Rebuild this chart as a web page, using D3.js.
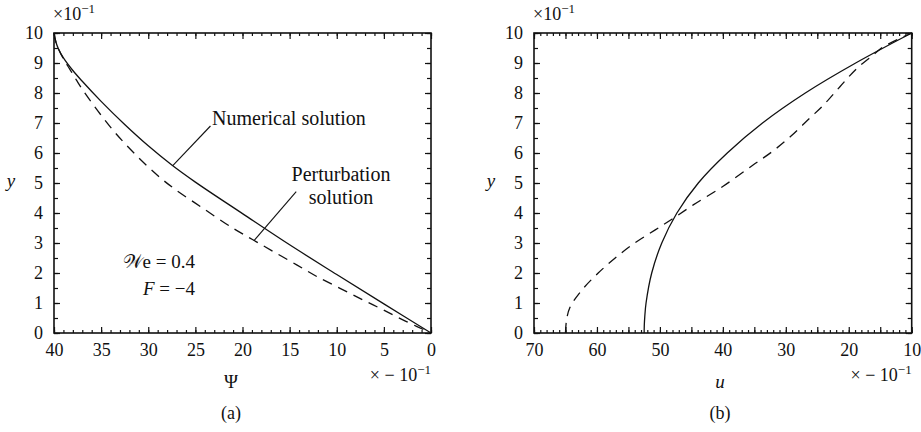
<!DOCTYPE html>
<html>
<head>
<meta charset="utf-8">
<script src="https://cdn.jsdelivr.net/npm/d3@7"></script>
<style>
  body { margin: 0; background: #fff; }
  svg text { font-family: "Liberation Serif", "Times New Roman", Times, "DejaVu Serif", "Noto Serif", Tinos, serif; fill: #111; }
</style>
</head>
<body>
<script>
const w = 921;
const h = 432;
const serif = '"Liberation Serif", "Times New Roman", Times, "DejaVu Serif", "Noto Serif", Tinos, serif';

// panel (a): stream function
const psiNumerical = [[40,10],[39.8,9.7],[39.5,9.45],[39,9.17],[38,8.75],[37,8.39],[35,7.72],[32.5,6.95],[30,6.24],[27.5,5.6],[25,5.03],[20,3.98],[15,2.94],[10,1.95],[5,0.97],[0,0]];
const psiPerturb = [[40,10],[39.8,9.7],[39.5,9.45],[39,9.14],[38.3,8.78],[37.6,8.42],[36.9,8.08],[35.1,7.3],[33.3,6.6],[31.2,5.9],[29,5.25],[27.2,4.8],[24.2,4.16],[21,3.49],[18.85,3.1],[16.7,2.71],[14.25,2.27],[12.1,1.88],[9.65,1.49],[7.2,1.1],[5.06,0.77],[2.6,0.38],[0,0]];
// panel (b): velocity
const uNumerical = [[52.5,0],[52.48,0.25],[52.4,0.55],[52.2,1],[51.3,2],[49.7,3],[47.3,4],[43.9,5],[39.3,6],[33.7,7],[26.9,8],[18.9,9],[10,10]];
const uPerturb = [[65,0],[64.85,0.4],[64.3,0.85],[62.4,1.43],[59.8,2],[57.1,2.5],[54,3],[50.8,3.43],[48.1,3.79],[44.7,4.27],[39.9,4.9],[35.2,5.6],[32.2,6.04],[29.3,6.54],[26.2,7.16],[24,7.6],[21.4,8.21],[18.7,8.82],[16.1,9.27],[14.5,9.54],[10,10]];

const yMinor = d3.range(0, 10.01, 0.5);
const yMajor = d3.range(0, 11, 1);
const psiMinor = d3.range(0, 41, 1);
const psiMajor = [40, 35, 30, 25, 20, 15, 10, 5, 0];
const psiLabels = psiMajor;
const uMinor = d3.range(10, 71, 1);
const uMajor = [70, 65, 60, 55, 50, 45, 40, 35, 30, 25, 20, 15, 10];
const uLabels = [70, 60, 50, 40, 30, 20, 10];

let svg = d3.select("body").append("svg")
    .attr("width", w)
    .attr("height", h);

function panel(o) {
    let g = svg.append("g");
    let x = d3.scaleLinear().domain(o.xDomain).range([o.left, o.right]);
    let y = d3.scaleLinear().domain([0, 10]).range([333, 33]);
    let top = 33, bottom = 333;

    // ticks on all four sides, pointing inward
    let fmt = d => o.labels.includes(d) ? d : "";
    g.append("g").attr("transform", "translate(0," + bottom + ")")
        .call(d3.axisBottom(x).tickValues(o.minor).tickSize(-3).tickFormat(""));
    g.append("g").attr("transform", "translate(0," + bottom + ")")
        .call(d3.axisBottom(x).tickValues(o.major).tickSize(-6).tickPadding(10).tickFormat(fmt));
    g.append("g").attr("transform", "translate(0," + top + ")")
        .call(d3.axisTop(x).tickValues(o.minor).tickSize(-3).tickFormat(""));
    g.append("g").attr("transform", "translate(0," + top + ")")
        .call(d3.axisTop(x).tickValues(o.major).tickSize(-6).tickFormat(""));
    g.append("g").attr("transform", "translate(" + o.left + ",0)")
        .call(d3.axisLeft(y).tickValues(yMinor).tickSize(-4).tickFormat(""));
    g.append("g").attr("transform", "translate(" + o.left + ",0)")
        .call(d3.axisLeft(y).tickValues(yMajor).tickSize(-6).tickPadding(11).tickFormat(d => d));
    g.append("g").attr("transform", "translate(" + o.right + ",0)")
        .call(d3.axisRight(y).tickValues(yMinor).tickSize(-4).tickFormat(""));
    g.append("g").attr("transform", "translate(" + o.right + ",0)")
        .call(d3.axisRight(y).tickValues(yMajor).tickSize(-6).tickFormat(""));

    g.selectAll("g").attr("font-family", serif);
    g.selectAll(".domain").remove();
    g.selectAll(".tick line").attr("stroke", "#111").attr("stroke-width", 1.2);
    g.selectAll(".tick text").style("font-family", serif).style("font-size", "18px").attr("fill", "#111");

    g.append("rect")
        .attr("x", o.left).attr("y", top)
        .attr("width", o.right - o.left).attr("height", bottom - top)
        .attr("fill", "none").attr("stroke", "#111").attr("stroke-width", 1.6);

    let line = d3.line().x(d => x(d[0])).y(d => y(d[1])).curve(d3.curveCatmullRom.alpha(0.5));
    g.append("path").datum(o.solid).attr("d", line)
        .attr("fill", "none").attr("stroke", "#111").attr("stroke-width", 1.3);
    g.append("path").datum(o.dashed).attr("d", line)
        .attr("fill", "none").attr("stroke", "#111").attr("stroke-width", 1.3)
        .attr("stroke-dasharray", "10,7");

    // scale factor notes
    let t1 = g.append("text").attr("x", o.left - 1).attr("y", 20).style("font-size", "18px");
    t1.append("tspan").text("\u00d710");
    t1.append("tspan").attr("dy", -7).style("font-size", "13px").text("\u22121");
    let t2 = g.append("text").attr("x", o.right).attr("y", 381).attr("text-anchor", "end").style("font-size", "18px");
    t2.append("tspan").text("\u00d7 \u2212 10");
    t2.append("tspan").attr("dy", -7).style("font-size", "13px").text("\u22121");

    g.append("text").attr("x", o.yLabelX).attr("y", 187).attr("text-anchor", "middle")
        .style("font-size", "19px").style("font-style", "italic").text("y");
    g.append("text").attr("x", o.xLabelX).attr("y", 388).attr("text-anchor", "middle")
        .style("font-size", "19px").style("font-style", o.xItalic ? "italic" : "normal").text(o.xLabel);
    g.append("text").attr("x", o.xLabelX).attr("y", 419).attr("text-anchor", "middle")
        .style("font-size", "18px").text(o.caption);

    return {g, x, y};
}

let a = panel({
    xDomain: [40, 0], left: 54, right: 431,
    minor: psiMinor, major: psiMajor, labels: psiLabels,
    solid: psiNumerical, dashed: psiPerturb,
    yLabelX: 11, xLabelX: 231, xLabel: "\u03a8", xItalic: false, caption: "(a)"
});

let b = panel({
    xDomain: [70, 10], left: 534, right: 911.7,
    minor: uMinor, major: uMajor, labels: uLabels,
    solid: uNumerical, dashed: uPerturb,
    yLabelX: 491, xLabelX: 720, xLabel: "u", xItalic: true, caption: "(b)"
});

// annotations in panel (a)
a.g.append("line")
    .attr("x1", a.x(27.4)).attr("y1", a.y(5.58))
    .attr("x2", a.x(23.4)).attr("y2", a.y(6.9))
    .attr("stroke", "#111").attr("stroke-width", 1.1);
a.g.append("text").attr("x", 212).attr("y", 125).style("font-size", "20px").text("Numerical solution");

a.g.append("line")
    .attr("x1", a.x(18.8)).attr("y1", a.y(3.07))
    .attr("x2", a.x(14.3)).attr("y2", a.y(4.71))
    .attr("stroke", "#111").attr("stroke-width", 1.1);
a.g.append("text").attr("x", 341).attr("y", 181).attr("text-anchor", "middle").style("font-size", "20px").text("Perturbation");
a.g.append("text").attr("x", 341).attr("y", 204).attr("text-anchor", "middle").style("font-size", "20px").text("solution");

a.g.append("text").attr("x", 195).attr("y", 268).attr("text-anchor", "end").style("font-size", "19px")
    .text("\ud835\udcb2e = 0.4");
let ft = a.g.append("text").attr("x", 195).attr("y", 295).attr("text-anchor", "end").style("font-size", "19px");
ft.append("tspan").style("font-style", "italic").text("F");
ft.append("tspan").text(" = \u22124");
</script>
</body>
</html>
